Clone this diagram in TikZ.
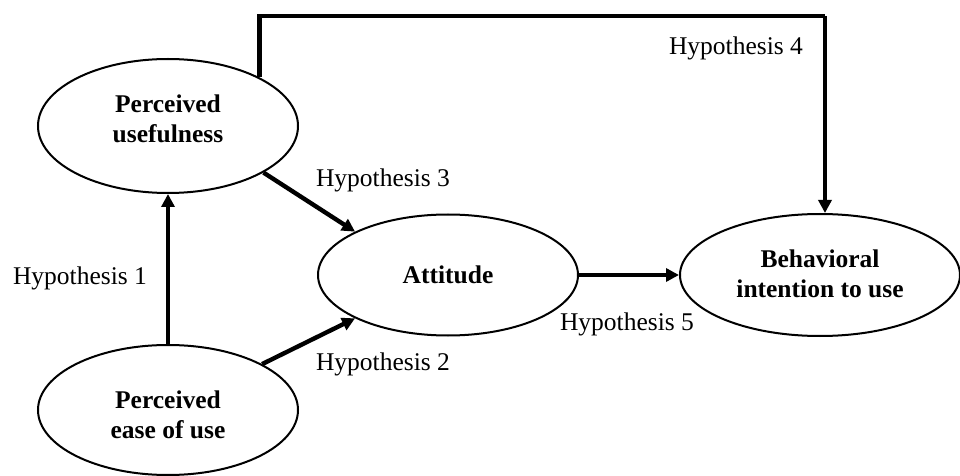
\documentclass[tikz,border=0pt]{standalone}
\usepackage{fontspec}
\setmainfont{Liberation Serif}
\usetikzlibrary{arrows.meta,shapes.geometric}
% two centred lines, moved up by #1 while keeping their natural size
\newcommand{\twolines}[3]{%
  \setbox0=\hbox{\begin{tabular}{@{}c@{}}#2\\#3\end{tabular}}%
  \raisebox{#1}[\ht0][\dp0]{\copy0}}
\begin{document}
\begin{tikzpicture}[x=0.5pt,y=-0.5pt,
  construct/.style={ellipse,draw,line width=1pt,inner sep=0pt,align=center,
    font=\fontsize{12.75}{15}\selectfont\bfseries},
  link/.style={line width=2.2pt,-{Triangle[length=6.5pt,width=6.5pt]}},
  hyp/.style={font=\fontsize{12.75}{15}\selectfont,inner sep=0pt}]
\useasboundingbox (0,0) rectangle (960,476);

% constructs
\node[construct,minimum width=130pt,minimum height=67pt] (U) at (168,126) {\twolines{2.25pt}{Perceived}{usefulness}};
\node[construct,minimum width=130pt,minimum height=65pt] (E) at (168,410) {\twolines{-3.75pt}{Perceived}{ease of use}};
\node[construct,minimum width=130pt,minimum height=60.5pt] (A) at (448,275) {Attitude};
\node[construct,minimum width=140pt,minimum height=61pt] (B) at (820,275) {\twolines{-1pt}{Behavioral}{intention to use}};

% paths between constructs
\coordinate (top) at (825,16);
\draw[link] (E.north) -- (U.south);
\draw[link] (U.-26) -- (A.155);
\draw[link] (E.26) -- (A.205);
\draw[link] (A.east) -- (B.west);
\draw[link,-] (U.28) |- (top);
\draw[link] (top) -- (B.north -| top);

% hypothesis labels
\node[hyp] (h1) at (80,278) {Hypothesis 1};
\node[hyp] (h2) at (383,364) {Hypothesis 2};
\node[hyp] (h3) at (383,180) {Hypothesis 3};
\node[hyp] (h4) at (736,48) {Hypothesis 4};
\node[hyp] (h5) at (627,324) {Hypothesis 5};
\end{tikzpicture}
\end{document}
